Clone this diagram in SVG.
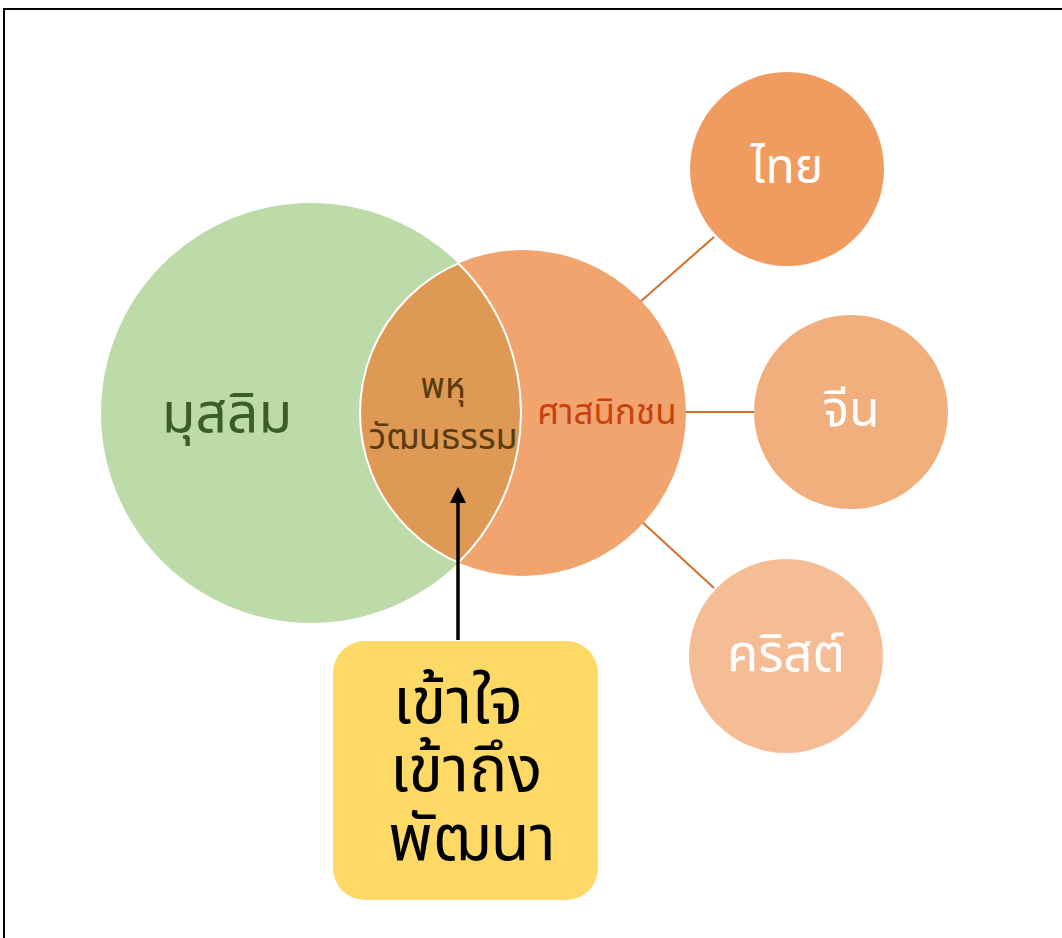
<svg xmlns="http://www.w3.org/2000/svg" width="1062" height="938" viewBox="0 0 1062 938">
<style>
text{font-family:"Noto Sans Thai","Noto Sans","DejaVu Sans",sans-serif;text-anchor:middle;dominant-baseline:central}
.w{fill:#fff}
.b{font-size:64px;fill:#000}
.conn{stroke:#D0702C;stroke-width:2;fill:none}
</style>
<defs>
<clipPath id="gclip"><circle cx="311" cy="413" r="210"/></clipPath>
<clipPath id="oclip"><circle cx="523" cy="413" r="163"/></clipPath>
</defs>
<rect x="0" y="0" width="1062" height="938" fill="#fff"/>
<rect x="4" y="9" width="1070" height="940" fill="none" stroke="#000" stroke-width="2"/>
<g id="connectors">
<line class="conn" x1="640" y1="302" x2="714" y2="237"/>
<line class="conn" x1="672" y1="412" x2="754" y2="412"/>
<line class="conn" x1="640" y1="520" x2="714" y2="588"/>
</g>
<g id="muslim">
<circle cx="311" cy="413" r="210" fill="#BCDBA8"/>
<text x="227" y="415" style="font-size:55px;fill:#3A5E26">มุสลิม</text>
</g>
<g id="sasanikachon">
<circle cx="523" cy="413" r="163" fill="#F1A46E"/>
<circle cx="523" cy="413" r="163" fill="#DE9A54" clip-path="url(#gclip)"/>
<circle cx="523" cy="413" r="163" fill="none" stroke="#fff" stroke-width="2" clip-path="url(#gclip)"/>
<text x="607" y="413" style="font-size:35px;fill:#C8420E">ศาสนิกชน</text>
</g>
<g id="lens">
<circle cx="311" cy="413" r="210" fill="none" stroke="#fff" stroke-width="2" clip-path="url(#oclip)"/>
<text x="443" y="387" style="font-size:35px;fill:#5A3B0E">พหุ</text>
<text x="443" y="438" style="font-size:36px;fill:#5A3B0E">วัฒนธรรม</text>
</g>
<g id="thai">
<circle cx="787" cy="169" r="97" fill="#F09C60"/>
<text class="w" x="787" y="168" style="font-size:48px">ไทย</text>
</g>
<g id="chinese">
<circle cx="851" cy="412" r="97" fill="#F2AF7E"/>
<text class="w" x="851" y="411" style="font-size:50px">จีน</text>
</g>
<g id="christian">
<circle cx="786" cy="656" r="97" fill="#F5BD96"/>
<text class="w" x="786" y="655" style="font-size:51px">คริสต์</text>
</g>
<g id="arrow">
<line x1="458" y1="640" x2="458" y2="500" stroke="#000" stroke-width="3.5"/>
<polygon points="458,487 450,503 466,503" fill="#000"/>
</g>
<g id="box">
<rect x="333" y="641" width="265" height="259" rx="32" fill="#FFD966"/>
<text class="b"><tspan x="458" y="703">เข้าใจ</tspan><tspan x="466" y="771">เข้าถึง</tspan><tspan x="472" y="840">พัฒนา</tspan></text>
</g>
</svg>
